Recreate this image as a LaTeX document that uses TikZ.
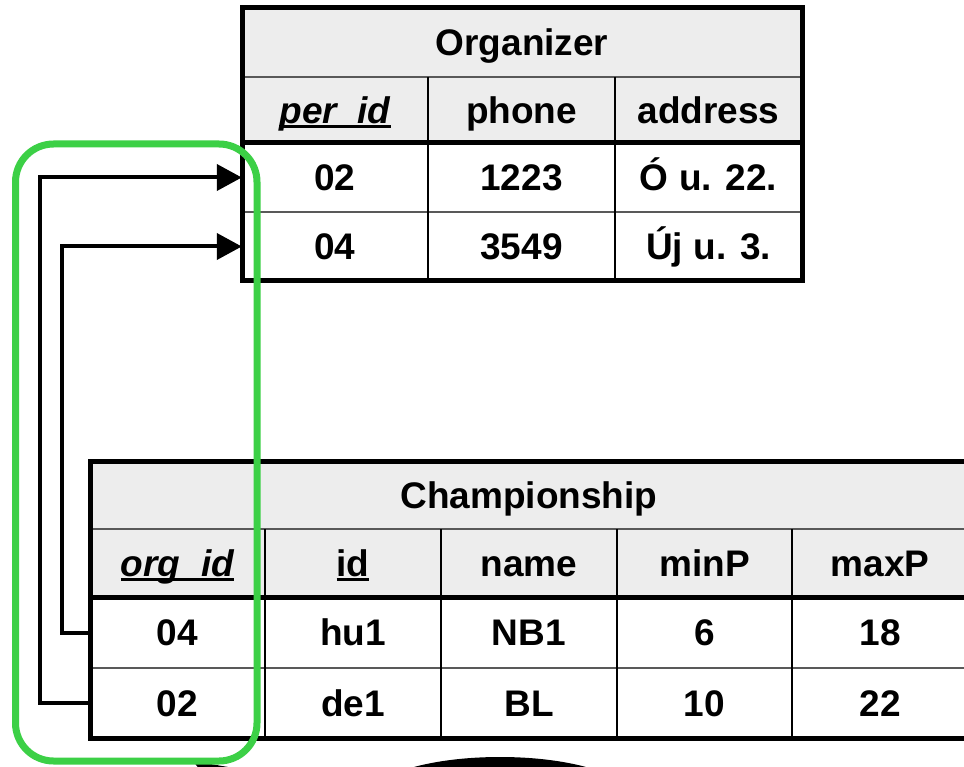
\documentclass[tikz,border=0pt]{standalone}
\usepackage{fontspec}
\setmainfont{Liberation Sans}
\usetikzlibrary{arrows.meta}
\definecolor{hdr}{RGB}{237,237,237}
\definecolor{grn}{RGB}{60,208,70}
\newcommand\myul[1]{\setbox0\hbox{#1}\rlap{\rule[-0.115em]{\wd0}{0.06em}}\box0}
\begin{document}
\begin{tikzpicture}[x=1pt,y=-1pt,
  cell/.style={inner sep=0pt, anchor=center, font=\fontsize{37}{44}\selectfont\bfseries,
    text height=26.5pt, text depth=0pt},
  hcell/.style={cell, fill=hdr},
  outer/.style={line width=5pt, black},
  thick sep/.style={line width=5pt, black},
  thin sep/.style={line width=2pt, black!65},
  vsep/.style={line width=2pt, black},
  fk/.style={line width=4pt, black, -{Triangle[length=25pt,width=26pt]}},
  ring/.style={line width=7pt, grn, rounded corners=38pt}]
\useasboundingbox (0,0) rectangle (964,767);
\clip (0,0) rectangle (964,767);
\fill[white] (0,0) rectangle (964,767);

% ---------- Organizer ----------
\node[hcell, minimum width=560pt, minimum height=69pt] (ot) at (522,42.5) {Organizer};
\node[hcell, minimum width=186pt, minimum height=66pt] (oh1) at (335,110) {\myul{\itshape per\_id}};
\node[hcell, minimum width=187pt, minimum height=66pt] (oh2) at (521.5,110) {phone};
\node[hcell, minimum width=187pt, minimum height=66pt] (oh3) at (708.5,110) {address};
\node[cell, minimum width=186pt, minimum height=69pt] (o11) at (335,177.5) {02};
\node[cell, minimum width=187pt, minimum height=69pt] (o12) at (521.5,177.5) {1223};
\node[cell, minimum width=187pt, minimum height=69pt] (o13) at (708.5,177.5) {Ó u. 22.};
\node[cell, minimum width=186pt, minimum height=69pt] (o21) at (335,246.5) {04};
\node[cell, minimum width=187pt, minimum height=69pt] (o22) at (521.5,246.5) {3549};
\node[cell, minimum width=187pt, minimum height=69pt] (o23) at (708.5,246.5) {Új u. 3.};

\draw[thin sep] (242,77) -- (802,77);
\draw[thin sep] (242,212) -- (802,212);
\draw[vsep] (428,77) -- (428,281);
\draw[vsep] (615,77) -- (615,281);
\draw[thick sep] (242,143) -- (802,143);
\draw[outer] (242,8) rectangle (802,281);

% ---------- Championship ----------
\node[hcell, minimum width=878pt, minimum height=68pt] (ct) at (529,495) {Championship};
\node[hcell, minimum width=175pt, minimum height=68pt] (ch1) at (177.5,563) {\myul{\itshape org\_id}};
\node[hcell, minimum width=176pt, minimum height=68pt] (ch2) at (353,563) {\myul{id}};
\node[hcell, minimum width=176pt, minimum height=68pt] (ch3) at (529,563) {name};
\node[hcell, minimum width=175pt, minimum height=68pt] (ch4) at (704.5,563) {minP};
\node[hcell, minimum width=176pt, minimum height=68pt] (ch5) at (880,563) {maxP};
\node[cell, minimum width=175pt, minimum height=71pt] (c11) at (177.5,632.5) {04};
\node[cell, minimum width=176pt, minimum height=71pt] (c12) at (353,632.5) {hu1};
\node[cell, minimum width=176pt, minimum height=71pt] (c13) at (529,632.5) {NB1};
\node[cell, minimum width=175pt, minimum height=71pt] (c14) at (704.5,632.5) {6};
\node[cell, minimum width=176pt, minimum height=71pt] (c15) at (880,632.5) {18};
\node[cell, minimum width=175pt, minimum height=70pt] (c21) at (177.5,703) {02};
\node[cell, minimum width=176pt, minimum height=70pt] (c22) at (353,703) {de1};
\node[cell, minimum width=176pt, minimum height=70pt] (c23) at (529,703) {BL};
\node[cell, minimum width=175pt, minimum height=70pt] (c24) at (704.5,703) {10};
\node[cell, minimum width=176pt, minimum height=70pt] (c25) at (880,703) {22};

\draw[thin sep] (90,529) -- (970,529);
\draw[thin sep] (90,668) -- (970,668);
\foreach \xx in {265,441,617,792} \draw[vsep] (\xx,529) -- (\xx,738);
\draw[thick sep] (90,597) -- (970,597);
\draw[outer] (975,461) -- (90,461) -- (90,738) -- (975,738);

% ---------- partial shapes at the bottom edge ----------
\fill[black] (500,797) ellipse [x radius=130pt, y radius=40pt];
\fill[black] (193,761) -- (228,767) -- (200,770) -- cycle;

% ---------- foreign key connectors ----------
\coordinate (k1) at (40,703);
\coordinate (k2) at (62,632.5);
\draw[fk] (c21.west) -- (k1) |- (o11.west);
\draw[fk] (c11.west) -- (k2) |- (o21.west);

% ---------- green highlight ----------
\draw[ring] (15.5,144) rectangle (257,761);
\end{tikzpicture}
\end{document}
